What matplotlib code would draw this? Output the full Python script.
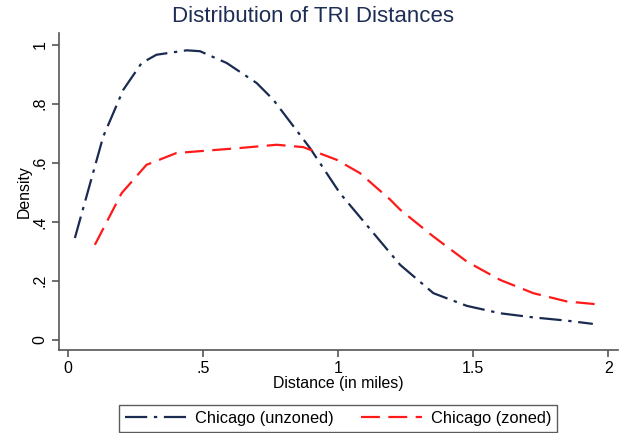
import numpy as np
import matplotlib.pyplot as plt

plt.rcParams['font.family'] = ['Liberation Sans', 'DejaVu Sans']

# density curves
x_unzoned = [0.026, 0.131, 0.205, 0.273, 0.328, 0.44, 0.489, 0.588, 0.699, 0.76, 0.896,
             1.007, 1.193, 1.23, 1.353, 1.477, 1.6, 1.723, 1.847, 1.943]
y_unzoned = [0.345, 0.689, 0.847, 0.938, 0.966, 0.981, 0.978, 0.938, 0.870, 0.814, 0.65,
             0.497, 0.294, 0.254, 0.158, 0.115, 0.09, 0.076, 0.065, 0.054]

x_zoned = [0.1, 0.199, 0.291, 0.402, 0.637, 0.773, 0.871, 0.995, 1.081, 1.193, 1.23,
           1.353, 1.477, 1.6, 1.723, 1.847, 1.952]
y_zoned = [0.322, 0.497, 0.593, 0.633, 0.65, 0.661, 0.653, 0.61, 0.565, 0.475, 0.441,
           0.35, 0.265, 0.203, 0.158, 0.13, 0.121]

xticks = [0, 0.5, 1, 1.5, 2]
xticklabels = ['0', '.5', '1', '1.5', '2']
yticks = [0, 0.2, 0.4, 0.6, 0.8, 1]
yticklabels = ['0', '.2', '.4', '.6', '.8', '1']

navy = '#1a2a50'
red = '#ff1a1a'
grey = '#555555'

fig = plt.figure(figsize=(6.27, 4.33), dpi=100)
ax = fig.add_axes([0.094, 0.192, 0.892, 0.732])

ax.plot(x_unzoned, y_unzoned, color=navy, lw=1.6, dashes=(10, 3, 1.5, 3),
        label='Chicago (unzoned)')
ax.plot(x_zoned, y_zoned, color=red, lw=1.6, dashes=(8.5, 3.8),
        label='Chicago (zoned)')

ax.set_xlim(-0.033, 2.037)
ax.set_ylim(-0.034, 1.04)
ax.set_xticks(xticks)
ax.set_xticklabels(xticklabels)
ax.set_yticks(yticks)
ax.set_yticklabels(yticklabels, rotation=90, va='center')
ax.tick_params(labelsize=11.5, length=5, color=grey, width=1.2, pad=3)

for s in ['top', 'right']:
    ax.spines[s].set_visible(False)
for s in ['left', 'bottom']:
    ax.spines[s].set_color(grey)
    ax.spines[s].set_linewidth(1.2)

ax.set_xlabel('Distance (in miles)', fontsize=11.4, labelpad=0)
ax.set_ylabel('Density', fontsize=11.4, labelpad=1)
fig.suptitle('Distribution of TRI Distances', fontsize=16, color='#1e2d55', x=0.5, y=0.985)

leg = fig.legend(loc='lower center', bbox_to_anchor=(0.539, -0.005), ncol=2, fontsize=11.8,
                 frameon=True, fancybox=False, edgecolor='#333333', handlelength=3.7,
                 handletextpad=0.55, columnspacing=1.7, borderpad=0.35, borderaxespad=0.2)
leg.get_frame().set_linewidth(1.0)

fig.savefig('out.png', dpi=100)
